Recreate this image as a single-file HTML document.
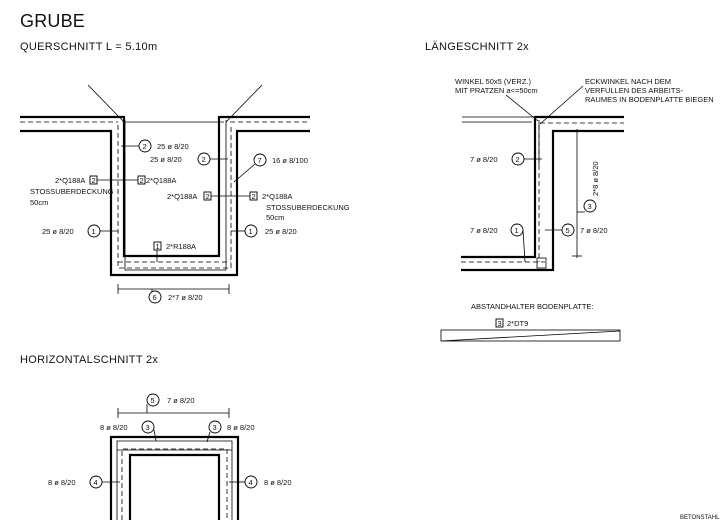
<!DOCTYPE html>
<html><head><meta charset="utf-8"><style>
body{margin:0;background:#fff;width:722px;height:520px;overflow:hidden}
svg{display:block}
text{font-family:"Liberation Sans",sans-serif;font-size:7.5px;fill:#111}
.h{font-size:11px;letter-spacing:0.3px}
.k{stroke:#000;stroke-width:2.2;fill:none}
.t{stroke:#000;stroke-width:0.8;fill:none}
.d{stroke:#000;stroke-width:0.8;fill:none;stroke-dasharray:5 3}
.c{stroke:#000;stroke-width:0.9;fill:#fff}
</style></head><body>
<svg width="722" height="520" viewBox="0 0 722 520">
<text x="20" y="27" style="font-size:18px;letter-spacing:0.2px">GRUBE</text>
<text class="h" x="20" y="50">QUERSCHNITT L = 5.10m</text>
<text class="h" x="425" y="50">LÄNGESCHNITT 2x</text>
<text class="h" x="20" y="363">HORIZONTALSCHNITT 2x</text>

<!-- Querschnitt -->
<line class="t" x1="88" y1="85" x2="124" y2="122"/>
<line class="t" x1="262" y1="85" x2="226" y2="122"/>
<path class="k" d="M20 117H124V256H219V117H310"/>
<path class="k" d="M20 131H111V275H237V131H310"/>
<line class="t" x1="124" y1="122" x2="224" y2="122"/>
<line class="d" x1="20" y1="122" x2="118" y2="122"/>
<line class="d" x1="230" y1="122" x2="310" y2="122"/>
<path class="d" d="M118 125V268H231V125"/>
<path class="t" d="M125 120V270H226V120"/>
<line class="d" x1="118" y1="262" x2="231" y2="262"/>
<line class="t" x1="118" y1="289" x2="229" y2="289"/>
<line class="t" x1="118" y1="284" x2="118" y2="294"/><line class="t" x1="229" y1="284" x2="229" y2="294"/>
<line class="t" x1="152" y1="289" x2="152" y2="297"/>
<circle class="c" cx="145" cy="146" r="6"/><text x="142.5" y="149">2</text><text x="157" y="149">25 ø 8/20</text>
<line class="t" x1="121" y1="146" x2="139" y2="146"/>
<text x="150" y="162">25 ø 8/20</text><circle class="c" cx="204" cy="159" r="6"/><text x="201.5" y="162">2</text>
<line class="t" x1="210" y1="159" x2="228" y2="159"/>
<circle class="c" cx="260" cy="160" r="6"/><text x="257.5" y="163">7</text><text x="272" y="163">16 ø 8/100</text>
<line class="t" x1="255" y1="164" x2="234" y2="182"/>
<text x="55" y="183">2*Q188A</text><rect class="c" x="90" y="176" width="7" height="8"/><text x="91.5" y="183">2</text>
<line class="t" x1="97" y1="180" x2="138" y2="180"/>
<rect class="c" x="138" y="176" width="7" height="8"/><text x="139.5" y="183">2</text><text x="146" y="183">2*Q188A</text>
<text x="30" y="194">STOSSUBERDECKUNG</text><text x="30" y="205">50cm</text>
<text x="167" y="199">2*Q188A</text><rect class="c" x="204" y="192" width="7" height="8"/><text x="205.5" y="199">2</text>
<line class="t" x1="211" y1="196" x2="250" y2="196"/>
<rect class="c" x="250" y="192" width="7" height="8"/><text x="251.5" y="199">2</text><text x="262" y="199">2*Q188A</text>
<text x="266" y="210">STOSSUBERDECKUNG</text><text x="266" y="220">50cm</text>
<text x="42" y="234">25 ø 8/20</text><circle class="c" cx="94" cy="231" r="6"/><text x="91.5" y="234">1</text>
<line class="t" x1="100" y1="231" x2="118" y2="231"/>
<circle class="c" cx="251" cy="231" r="6"/><text x="248.5" y="234">1</text><text x="265" y="234">25 ø 8/20</text>
<line class="t" x1="231" y1="231" x2="245" y2="231"/>
<rect class="c" x="154" y="242" width="7" height="8"/><text x="155.5" y="249">1</text><text x="166" y="249">2*R188A</text>
<line class="t" x1="157" y1="250" x2="157" y2="262"/>
<circle class="c" cx="155" cy="297" r="6"/><text x="152.5" y="300">6</text><text x="168" y="300">2*7 ø 8/20</text>

<!-- Laengeschnitt -->
<line class="t" x1="462" y1="117" x2="537" y2="117"/>
<line class="t" x1="462" y1="122" x2="532" y2="122"/>
<path class="k" d="M461 257H535V117H624"/>
<path class="k" d="M461 270H553V131H624"/>
<line class="d" x1="540" y1="123" x2="624" y2="123"/>
<line class="d" x1="461" y1="262" x2="545" y2="262"/>
<line class="d" x1="539" y1="125" x2="539" y2="262"/>
<line class="t" x1="539" y1="165" x2="539" y2="120"/>
<rect class="t" x="537" y="258" width="9" height="10"/>
<line class="t" x1="577" y1="129" x2="577" y2="258"/>
<line class="t" x1="572" y1="131" x2="582" y2="131"/><line class="t" x1="572" y1="256" x2="582" y2="256"/>
<line class="t" x1="577" y1="212" x2="585" y2="212"/>
<circle class="c" cx="590" cy="206" r="6"/><text x="587.5" y="209">3</text>
<text transform="translate(598 196) rotate(-90)">2*8 ø 8/20</text>
<text x="455" y="84">WINKEL 50x5 (VERZ.)</text><text x="455" y="93">MIT PRATZEN a&lt;=50cm</text>
<line class="t" x1="506" y1="95" x2="538" y2="121"/>
<text x="585" y="84">ECKWINKEL NACH DEM</text><text x="585" y="93">VERFULLEN DES ARBEITS-</text><text x="585" y="102">RAUMES IN BODENPLATTE BIEGEN</text>
<line class="t" x1="583" y1="86" x2="540" y2="124"/>
<text x="470" y="162">7 ø 8/20</text><circle class="c" cx="518" cy="159" r="6"/><text x="515.5" y="162">2</text>
<line class="t" x1="524" y1="159" x2="542" y2="159"/>
<text x="470" y="233">7 ø 8/20</text><circle class="c" cx="517" cy="230" r="6"/><text x="514.5" y="233">1</text>
<line class="t" x1="523" y1="230" x2="525" y2="262"/>
<line class="t" x1="545" y1="230" x2="562" y2="230"/>
<circle class="c" cx="568" cy="230" r="6"/><text x="565.5" y="233">5</text><text x="580" y="233">7 ø 8/20</text>
<text x="471" y="309">ABSTANDHALTER BODENPLATTE:</text>
<rect class="c" x="496" y="319" width="7" height="8"/><text x="497.5" y="326">3</text><text x="507" y="326">2*DT9</text>
<rect class="t" x="441" y="330" width="179" height="11"/>
<line class="t" x1="441" y1="341" x2="620" y2="331"/>

<!-- Horizontalschnitt -->
<path class="k" d="M111 520V437H238V520"/>
<path class="k" d="M130 520V455H219V520"/>
<path class="t" d="M117 520V441H232V520"/>
<path class="d" d="M122 520V449H227V520"/>
<line class="t" x1="117" y1="450" x2="232" y2="450"/>
<line class="t" x1="118" y1="413" x2="229" y2="413"/>
<line class="t" x1="118" y1="408" x2="118" y2="418"/><line class="t" x1="229" y1="408" x2="229" y2="418"/>
<line class="t" x1="147" y1="404" x2="147" y2="413"/>
<circle class="c" cx="153" cy="400" r="6"/><text x="150.5" y="403">5</text><text x="167" y="403">7 ø 8/20</text>
<text x="100" y="430">8 ø 8/20</text><circle class="c" cx="148" cy="427" r="6"/><text x="145.5" y="430">3</text>
<line class="t" x1="154" y1="430" x2="156" y2="441"/>
<circle class="c" cx="215" cy="427" r="6"/><text x="212.5" y="430">3</text><text x="227" y="430">8 ø 8/20</text>
<line class="t" x1="210" y1="432" x2="207" y2="442"/>
<text x="48" y="485">8 ø 8/20</text><circle class="c" cx="96" cy="482" r="6"/><text x="93.5" y="485">4</text>
<line class="t" x1="102" y1="482" x2="120" y2="482"/>
<circle class="c" cx="251" cy="482" r="6"/><text x="248.5" y="485">4</text><text x="264" y="485">8 ø 8/20</text>
<line class="t" x1="229" y1="482" x2="245" y2="482"/>
<text x="680" y="519" style="font-size:6px">BETONSTAHL</text>
</svg>
</body></html>
